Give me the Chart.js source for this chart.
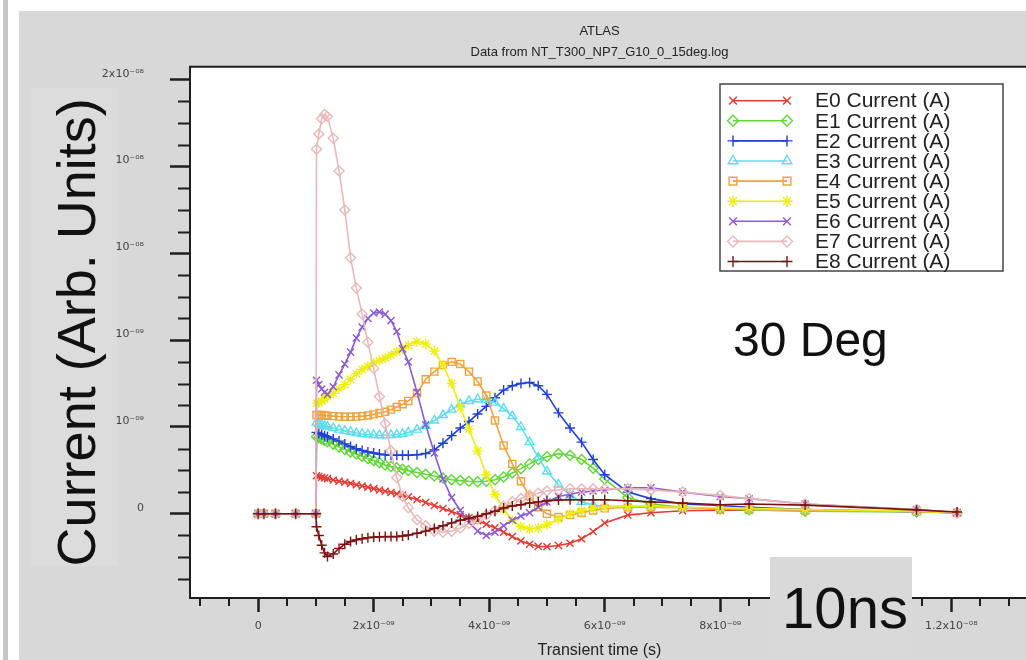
<!DOCTYPE html>
<html><head><meta charset="utf-8">
<script src="https://cdn.jsdelivr.net/npm/chart.js@4.4.0/dist/chart.umd.min.js"></script>
<style>
html,body{margin:0;padding:0;background:#fff;overflow:hidden;}
#wrap{position:relative;width:1026px;height:660px;overflow:hidden;background:#fff;}
#bar{position:absolute;left:3px;top:0;width:5px;height:660px;background:#c6c6c6;}
#panel{position:absolute;left:19px;top:11px;right:0;bottom:0;background:#d8d8d8;}
#ytbox{position:absolute;left:30px;top:88px;width:87px;height:478px;background:#dcdcdc;}
canvas{position:absolute;left:0;top:0;}
</style></head><body>
<div id="wrap"><div id="bar"></div><div id="panel"></div><div id="ytbox"></div>
<canvas id="c" width="1026" height="660"></canvas></div>
<script>
// time in ns, current in units of 1e-9
const timeNs = [0, 0.1, 0.3, 0.65, 1.0, 1.01, 1.05, 1.1, 1.15, 1.2, 1.3, 1.4, 1.5, 1.6, 1.7, 1.8, 1.9, 2.0, 2.1, 2.2, 2.3, 2.4, 2.5, 2.6, 2.75, 2.9, 3.05, 3.2, 3.35, 3.5, 3.65, 3.8, 3.95, 4.1, 4.25, 4.4, 4.55, 4.7, 4.85, 5.0, 5.2, 5.4, 5.6, 5.8, 6.0, 6.4, 6.8, 7.35, 8.0, 8.5, 9.47, 11.4, 12.1];

const e0 = [0,0,0,0,0, 1.75,1.72,1.68,1.65,1.62, 1.56,1.5,1.45,1.4,1.34,1.28,1.22,1.16,1.1,1.04,0.98,0.92,0.86,0.78, 0.66,0.52,0.38,0.24,0.1,-0.04,-0.18,-0.32,-0.48,-0.64,-0.85,-1.05,-1.25,-1.4,-1.5,-1.52, -1.46,-1.36,-1.15,-0.82,-0.42, -0.06,0.05,0.14,0.17,0.17,0.16,0.12,0.05];
const e1 = [0,0,0,0,0, 3.55,3.5,3.44,3.38,3.32, 3.2,3.08,2.96,2.85,2.75,2.65,2.55,2.45,2.35,2.25,2.18,2.12,2.05,1.99, 1.9,1.82,1.74,1.65,1.57,1.53,1.5,1.48,1.5,1.57,1.7,1.88,2.08,2.3,2.5,2.63, 2.77,2.7,2.5,2.1,1.6, 0.75,0.45,0.3,0.22,0.18,0.12,0.08,0.05];
const e2 = [0,0,0,0,0, 3.75,3.7,3.65,3.6,3.55, 3.45,3.35,3.22,3.1,3.0,2.92,2.85,2.8,2.75,2.72,2.7,2.7,2.7,2.7, 2.72,2.78,2.95,3.25,3.6,3.95,4.25,4.6,4.95,5.35,5.7,5.9,6.0,6.05,5.9,5.5, 4.65,3.95,3.3,2.5,1.8, 1.0,0.7,0.45,0.38,0.3,0.2,0.1,0.05];
const e3 = [0,0,0,0,0, 4.2,4.15,4.1,4.05,4.02, 3.95,3.88,3.82,3.78,3.72,3.68,3.65,3.63,3.62,3.62,3.63,3.65,3.68,3.75, 3.88,4.05,4.3,4.55,4.8,5.05,5.2,5.28,5.25,5.12,4.85,4.5,4.0,3.3,2.6,1.95, 1.35,0.85,0.55,0.4,0.35, 0.35,0.35,0.3,0.25,0.2,0.15,0.1,0.05];
const e4 = [0,0,0,0,0, 4.55,4.55,4.55,4.53,4.52, 4.5,4.48,4.47,4.47,4.48,4.5,4.53,4.58,4.64,4.7,4.8,4.92,5.05,5.2, 5.55,6.2,6.55,6.85,7.0,6.9,6.55,6.1,5.45,4.3,3.15,2.3,1.5,0.8,0.3,0.0, -0.15,-0.05,0.05,0.15,0.25, 0.3,0.3,0.28,0.25,0.2,0.15,0.1,0.05];
const e5 = [0,0,0,0,0, 5.1,5.12,5.2,5.3,5.38, 5.55,5.75,5.95,6.2,6.45,6.65,6.8,6.95,7.05,7.18,7.32,7.47,7.62,7.76, 7.93,7.82,7.5,6.85,6.0,4.9,3.9,2.9,1.8,0.9,0.2,-0.3,-0.6,-0.7,-0.65,-0.5, -0.25,0.0,0.15,0.25,0.3, 0.35,0.35,0.3,0.28,0.25,0.2,0.12,0.05];
const e6 = [0,0,0,0,0, 6.15,5.95,5.75,5.6,5.5, 5.85,6.4,6.9,7.45,8.1,8.6,9.0,9.25,9.3,9.2,8.9,8.4,7.6,7.0, 5.6,4.1,2.8,1.6,0.75,0.15,-0.4,-0.8,-1.0,-0.85,-0.55,-0.3,-0.1,0.05,0.3,0.55, 0.8,0.9,1.0,1.05,1.1, 1.2,1.2,1.0,0.8,0.7,0.45,0.2,0.05];
const e7 = [0,0,0,0,0, 16.8,17.5,18.2,18.4,18.3, 17.3,15.8,14.0,11.8,10.4,9.2,7.9,6.7,5.4,4.15,2.9,1.66,0.8,0.28, -0.28,-0.55,-0.8,-0.85,-0.8,-0.65,-0.45,-0.25,-0.05,0.15,0.35,0.55,0.7,0.85,0.95,1.05, 1.1,1.15,1.15,1.15,1.15, 1.15,1.1,1.0,0.85,0.7,0.45,0.2,0.05];
const e8 = [0,0,0,0,0, -0.6,-1.0,-1.45,-1.8,-1.97, -1.85,-1.6,-1.4,-1.28,-1.2,-1.15,-1.1,-1.08,-1.06,-1.05,-1.05,-1.05,-1.02,-0.98, -0.9,-0.8,-0.68,-0.55,-0.42,-0.3,-0.22,-0.12,0.0,0.12,0.27,0.36,0.42,0.5,0.55,0.6, 0.63,0.65,0.65,0.65,0.65, 0.6,0.55,0.5,0.42,0.45,0.4,0.18,0.08];

const seriesLabels = ['E0 Current (A)','E1 Current (A)','E2 Current (A)','E3 Current (A)','E4 Current (A)','E5 Current (A)','E6 Current (A)','E7 Current (A)','E8 Current (A)'];
const xTickValues = [0, 2, 4, 6, 8, 10, 12];
const xTickLabels = ['0', '2x10⁻⁰⁹', '4x10⁻⁰⁹', '6x10⁻⁰⁹', '8x10⁻⁰⁹', '10⁻⁰⁸', '1.2x10⁻⁰⁸'];
const yTickValues = [0, 4, 8, 12, 16, 20];
const yTickLabels = ['0', '10⁻⁰⁹', '10⁻⁰⁹', '10⁻⁰⁸', '10⁻⁰⁸', '2x10⁻⁰⁸'];

const seriesValues = [e0, e1, e2, e3, e4, e5, e6, e7, e8];
const colors = ['#e23b33','#62d63a','#1f3fd8','#5fdcee','#f0a23c','#eeee10','#8b5bd2','#e9b9b9','#7b1212'];
const styles = ['crossRot','rectRot','cross','triangle','rect','star','crossRot','rectRot','cross'];
const FONT = '"Liberation Sans", Arial, "DejaVu Sans", sans-serif';
const TICKFONT = '"DejaVu Sans", sans-serif';

const datasets = seriesValues.map((vals, i) => ({
  label: seriesLabels[i],
  data: vals.map((v, j) => ({x: timeNs[j], y: v})),
  borderColor: colors[i], backgroundColor: 'rgba(0,0,0,0)',
  borderWidth: 1.6, pointStyle: styles[i], pointRadius: 5, pointBorderWidth: 1.4,
  pointBorderColor: colors[i], pointBackgroundColor: 'rgba(0,0,0,0)', tension: 0, order: 8 - i
}));

const decor = {
  id: 'decor',
  beforeDraw(chart) {
    const {ctx, chartArea: a} = chart;
    ctx.save(); ctx.fillStyle = '#fff';
    ctx.fillRect(a.left, a.top, chart.width - a.left, a.bottom - a.top);
    ctx.restore();
  },
  afterDraw(chart) {
    const {ctx, chartArea: a, scales: {x, y}} = chart;
    ctx.save();
    // frame
    ctx.strokeStyle = '#1e1e1e'; ctx.lineWidth = 2;
    ctx.beginPath();
    ctx.moveTo(chart.width, a.top); ctx.lineTo(a.left, a.top); ctx.lineTo(a.left, a.bottom); ctx.lineTo(chart.width, a.bottom);
    ctx.stroke();
    // minor ticks
    ctx.lineWidth = 2;
    ctx.beginPath();
    for (let v = -3; v <= 20; v += 1) {
      if (yTickValues.includes(v)) continue;
      const py = Math.round(y.getPixelForValue(v)) + 0.5;
      ctx.moveTo(a.left - 12, py); ctx.lineTo(a.left, py);
    }
    for (let v = -1; v <= 14; v += 0.5) {
      if (xTickValues.includes(v)) continue;
      const px = Math.round(x.getPixelForValue(v));
      if (px > chart.width) continue;
      ctx.moveTo(px, a.bottom); ctx.lineTo(px, a.bottom + 8);
    }
    ctx.stroke();
    // legend
    const L = {left: 720, top: 84, right: 1003, bottom: 271, y0: 100.7, dy: 20.1, x1: 733, x2: 787, tx: 815};
    ctx.fillStyle = '#fff';
    ctx.fillRect(L.left, L.top, L.right - L.left, L.bottom - L.top);
    ctx.strokeStyle = '#444'; ctx.lineWidth = 1.5;
    ctx.strokeRect(L.left, L.top, L.right - L.left, L.bottom - L.top);
    chart.data.datasets.forEach((ds, i) => {
      const yy = L.y0 + i * L.dy;
      ctx.strokeStyle = ds.borderColor; ctx.fillStyle = 'rgba(0,0,0,0)'; ctx.lineWidth = 1.6;
      ctx.beginPath(); ctx.moveTo(L.x1, yy); ctx.lineTo(L.x2, yy); ctx.stroke();
      const po = {pointStyle: ds.pointStyle, radius: 5.5, borderWidth: 1.4, rotation: 0};
      ctx.lineWidth = 1.4;
      Chart.helpers.drawPoint(ctx, po, L.x1, yy);
      Chart.helpers.drawPoint(ctx, po, L.x2, yy);
      ctx.fillStyle = '#222'; ctx.font = '21px ' + FONT; ctx.textBaseline = 'middle'; ctx.textAlign = 'left';
      ctx.fillText(ds.label, L.tx, yy + 1);
    });
    // annotation
    ctx.fillStyle = '#111'; ctx.font = '48px ' + FONT; ctx.textBaseline = 'alphabetic'; ctx.textAlign = 'left';
    ctx.fillText('30 Deg', 733, 356);
    ctx.fillStyle = '#d9d9d9'; ctx.fillRect(770, 557, 142, 103);
    ctx.fillStyle = '#111'; ctx.font = '58px ' + FONT; ctx.textAlign = 'center';
    ctx.fillText('10ns', 845, 628);
    ctx.restore();
  }
};

new Chart(document.getElementById('c'), {
  type: 'line',
  data: {datasets},
  options: {
    responsive: false, animation: false, devicePixelRatio: 1,
    layout: {padding: {left: 0, right: 17, top: 0, bottom: 0}},
    plugins: {
      legend: {display: false}, tooltip: {enabled: false},
      title: {display: true, text: 'ATLAS', fullSize: false, color: '#222', font: {family: FONT, size: 13, weight: 'normal'}, padding: {top: 24, bottom: 5}},
      subtitle: {display: true, text: 'Data from NT_T300_NP7_G10_0_15deg.log', fullSize: false, color: '#222', font: {family: FONT, size: 13, weight: 'normal'}, padding: {top: 0, bottom: 6.5}}
    },
    scales: {
      x: {
        type: 'linear', min: -1.18, max: 13.0,
        afterBuildTicks: s => { s.ticks = xTickValues.map(v => ({value: v})); },
        afterFit: s => { s.height = 62; },
        grid: {display: true, drawOnChartArea: false, drawTicks: true, tickLength: 14, tickWidth: 2.5, tickColor: '#1e1e1e'},
        border: {display: false},
        ticks: {autoSkip: false, maxRotation: 0, padding: 8, color: '#444', font: {family: TICKFONT, size: 11}, callback: (v, i) => xTickLabels[i]},
        title: {display: true, text: 'Transient time (s)', color: '#222', font: {family: FONT, size: 16}, padding: {top: 0, bottom: 0}}
      },
      y: {
        type: 'linear', min: -3.88, max: 20.6,
        afterBuildTicks: s => { s.ticks = yTickValues.map(v => ({value: v})); },
        afterFit: s => { s.width = 190; },
        grid: {display: true, drawOnChartArea: false, drawTicks: true, tickLength: 20, tickWidth: 2.5, tickColor: '#1e1e1e'},
        border: {display: false},
        ticks: {autoSkip: false, padding: 26, labelOffset: -6, color: '#444', font: {family: TICKFONT, size: 11}, callback: (v, i) => yTickLabels[i]},
        title: {display: true, text: 'Current (Arb. Units)', color: '#111', font: {family: FONT, size: 54}, padding: {top: 48, bottom: 0}}
      }
    }
  },
  plugins: [decor]
});
</script>
</body></html>
